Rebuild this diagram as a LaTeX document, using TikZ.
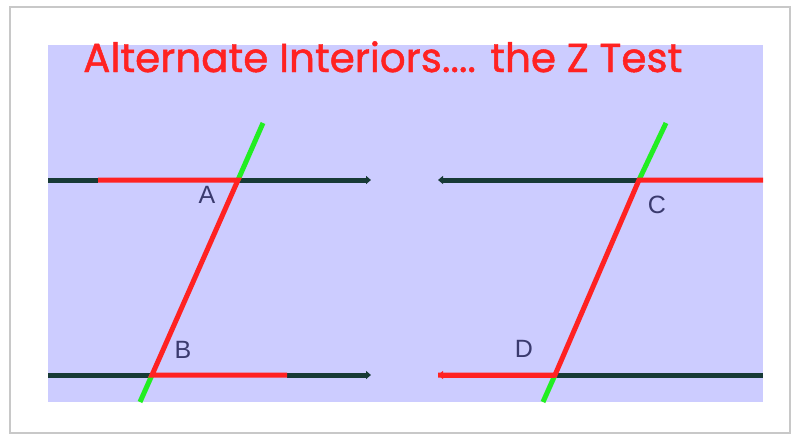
\documentclass[tikz,border=0pt]{standalone}
\usepackage{fontspec}
\setmainfont{Liberation Sans}
\newfontfamily\titlefont[FakeBold=1.2]{Poppins}
\usetikzlibrary{arrows.meta}
\definecolor{lav}{HTML}{CCCCFF}
\definecolor{zred}{HTML}{FF2222}
\definecolor{zgreen}{HTML}{22EE22}
\definecolor{zdark}{HTML}{173A36}
\definecolor{zlab}{HTML}{3A3A6E}
\definecolor{frame}{HTML}{C8C8C8}
\tikzset{
  seg/.style={line width=5pt},
  darkseg/.style={seg, draw=zdark},
  redseg/.style={seg, draw=zred},
  greenseg/.style={seg, draw=zgreen},
  tipend/.style={-{Triangle[length=5pt,width=8pt]}},
  ptlabel/.style={text=zlab, font=\fontsize{25}{25}\selectfont, inner sep=0pt},
}
\begin{document}
\begin{tikzpicture}[x=1pt,y=-1pt]
\useasboundingbox (0,0) rectangle (798,436);
\fill[white] (0,0) rectangle (798,436);
\draw[frame, line width=2pt, fill=white] (10,7) rectangle (790,433);
\fill[lav] (48,45) rectangle (763,402);
\node[anchor=base west, inner sep=0pt, text=zred] (title) at (83,72)
  {\resizebox{599pt}{!}{\titlefont Alternate Interiors.... the Z Test}};
% left figure
\coordinate (A) at (238,180);
\coordinate (B) at (152,375);
\coordinate (Atop) at (263,123);
\coordinate (Bbot) at (140,402);
\coordinate (L1s) at (48,180);
\coordinate (L1r) at (98,180);
\coordinate (L1e) at (371,180);
\coordinate (L2s) at (48,375);
\coordinate (L2r) at (287,375);
\coordinate (L2e) at (371,375);
\draw[darkseg] (L1s) -- (L1r);
\draw[darkseg, tipend] (A) -- (L1e);
\draw[darkseg] (L2s) -- (B);
\draw[darkseg, tipend] (L2r) -- (L2e);
\draw[greenseg] (A) -- (Atop);
\draw[greenseg] (B) -- (Bbot);
\draw[redseg, line join=miter] (L1r) -- (A) -- (B) -- (L2r);
\node[ptlabel] (labA) at (207,195) {A};
\node[ptlabel] (labB) at (183,350) {B};
% right figure
\coordinate (C) at (639,180);
\coordinate (D) at (555,375);
\coordinate (Ctop) at (666,123);
\coordinate (Dbot) at (543,402);
\coordinate (R1s) at (438,180);
\coordinate (R1e) at (763,180);
\coordinate (R2s) at (438,375);
\coordinate (R2e) at (763,375);
\draw[darkseg, tipend] (C) -- (R1s);
\draw[darkseg] (D) -- (R2e);
\draw[greenseg] (C) -- (Ctop);
\draw[greenseg] (D) -- (Dbot);
\draw[redseg, line join=miter] (R1e) -- (C) -- (D) -- (R2s);
\draw[redseg, tipend] (D) -- (R2s);
\node[ptlabel] (labC) at (657,205) {C};
\node[ptlabel] (labD) at (524,349) {D};
\end{tikzpicture}
\end{document}
